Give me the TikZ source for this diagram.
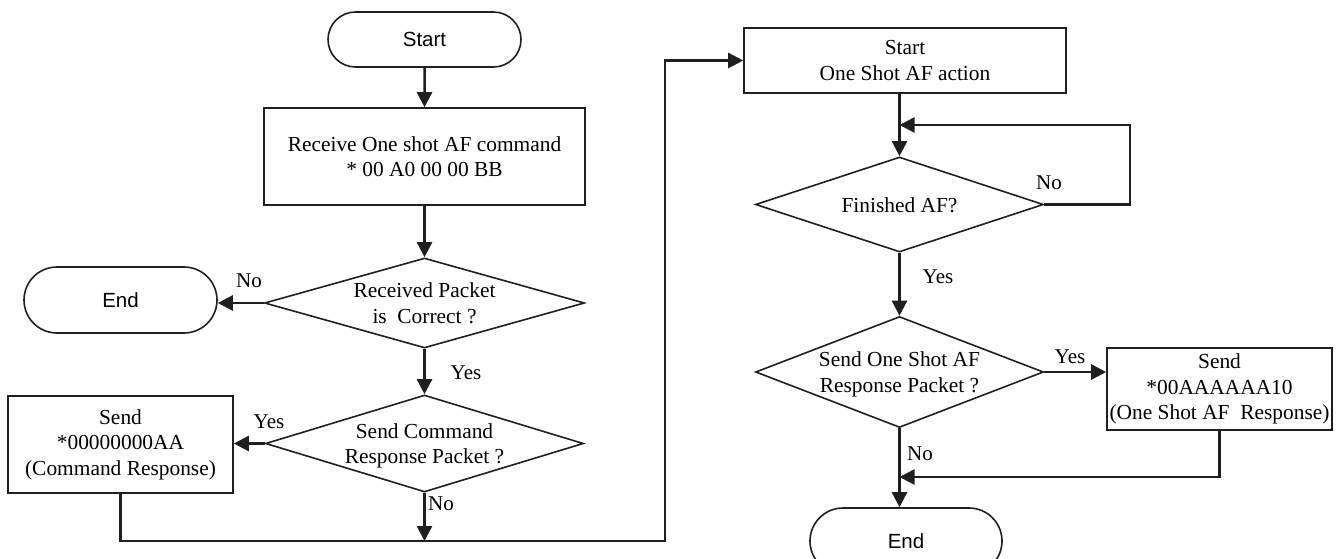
\documentclass[tikz,border=0pt]{standalone}
\usepackage{fontspec}
\setmainfont{Liberation Serif}
\newfontfamily\arialf{Liberation Sans}
\usetikzlibrary{arrows.meta,shapes.geometric,shapes.misc,calc}
\newcommand{\dtext}[1]{\smash{\makebox[0pt]{\raisebox{-0.36em}{\begin{tabular}{@{}c@{}}#1\end{tabular}}}}}
\tikzset{
  ln/.style={draw=black!88},
  boxn/.style={ln, rectangle, line width=1.6pt, inner sep=0pt, align=center,
    font=\fontsize{21.4}{25.5}\selectfont},
  termn/.style={ln, rounded rectangle, line width=1.6pt, inner sep=0pt,
    font=\arialf\fontsize{20.5}{24}\selectfont},
  decn/.style={ln, diamond, line width=1.6pt, inner sep=0pt,
    font=\fontsize{21.4}{25.5}\selectfont},
  lab/.style={inner sep=0pt, font=\fontsize{21}{25}\selectfont},
  arr/.style={draw=black!88, line width=2.5pt, -{Triangle[length=15pt,width=15pt]}},
}
\begin{document}
\begin{tikzpicture}[x=1pt,y=-1pt]
\useasboundingbox (0,0) rectangle (1343,558);
% left column
\node[termn, minimum width=193pt, minimum height=55pt] (start) at (424.5,39.5) {Start};
\node[boxn, minimum width=321pt, minimum height=97pt] (recv) at (424.5,156.5)
  {Receive One shot AF command\\* 00 A0 00 00 BB};
\node[decn, minimum width=320pt, minimum height=90pt] (dia1) at (424.5,303)
  {\dtext{Received Packet\\is\ \ Correct ?}};
\node[termn, minimum width=193pt, minimum height=66pt] (end1) at (120.5,300) {End};
\node[decn, minimum width=318pt, minimum height=97pt] (dia2) at (424.5,443.5)
  {\dtext{Send Command\\Response Packet ?}};
\node[boxn, minimum width=225pt, minimum height=97pt] (send1) at (120.5,444.5)
  {Send\\*00000000AA\\(Command Response)};
% right column
\node[boxn, minimum width=322pt, minimum height=65pt] (af) at (905,60.5)
  {Start\\One Shot AF action};
\node[decn, minimum width=288pt, minimum height=95pt] (dia3) at (899.5,204.5)
  {\dtext{Finished AF?}};
\node[decn, minimum width=288pt, minimum height=111pt] (dia4) at (899.5,372)
  {\dtext{Send One Shot AF\\Response Packet ?}};
\node[boxn, minimum width=225pt, minimum height=82pt] (send2) at (1219.5,389)
  {Send\\*00AAAAAA10\\(One Shot AF\ \ Response)};
\node[termn, minimum width=192pt, minimum height=66pt] (end2) at (906,541) {End};
% labels
\node[lab] (l1) at (249,281) {No};
\node[lab] (l2) at (466,373) {Yes};
\node[lab] (l3) at (269,422) {Yes};
\node[lab] (l4) at (441,504) {No};
\node[lab] (l5) at (1049,183) {No};
\node[lab] (l6) at (938,277) {Yes};
\node[lab] (l7) at (1070,357) {Yes};
\node[lab] (l8) at (920,454) {No};
% helper coordinates
\coordinate (b1) at (424.5,541);
\coordinate (b2) at (665,541);
\coordinate (lp) at (1130,125);
\coordinate (mrg) at (899.5,477);
% connectors
\draw[arr] (start) -- (recv);
\draw[arr] (recv) -- (dia1);
\draw[arr] (dia1.west) -- (dia1.west -| end1.east);
\draw[arr] (dia1) -- (dia2);
\draw[arr] (dia2.west) -- (dia2.west -| send1.east);
\draw[arr] (dia2.south) -- (b1);
\draw[arr] (send1.south) |- (b2) |- (af.west);
\draw[arr] (af.south -| dia3.north) -- (dia3.north);
\draw[arr] (dia3.east) -| (lp) -- (lp -| dia3.north);
\draw[arr] (dia3) -- (dia4);
\draw[arr] (dia4.east) -- (dia4.east -| send2.west);
\draw[arr] (send2.south) |- (mrg);
\draw[arr] (dia4.south) -- (dia4.south |- end2.north);
\end{tikzpicture}
\end{document}
